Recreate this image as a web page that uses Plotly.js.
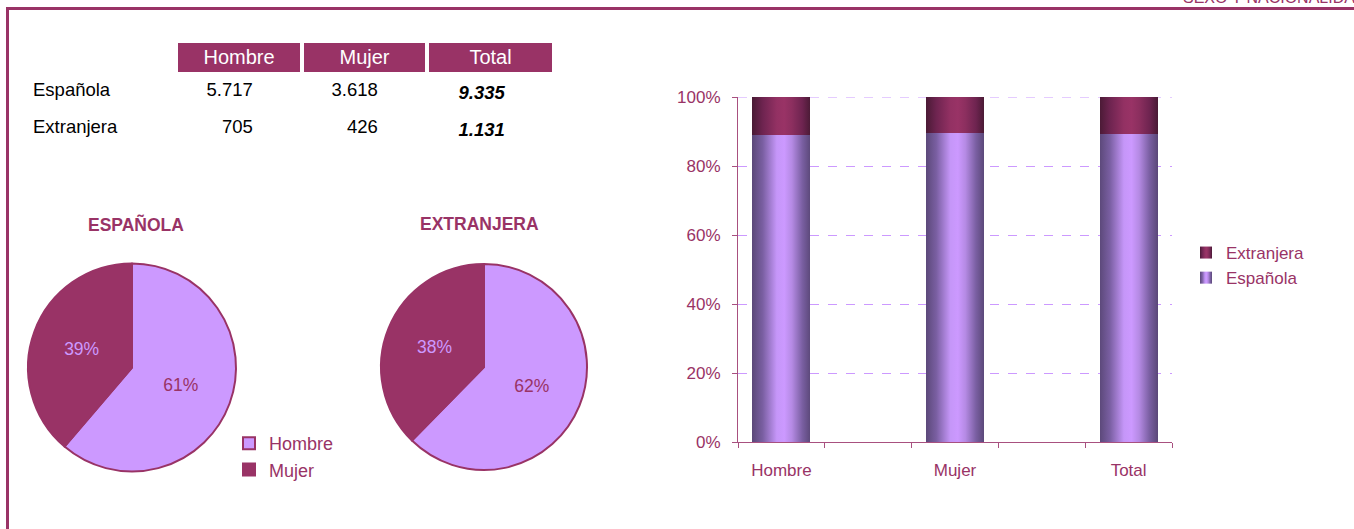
<!DOCTYPE html>
<html>
<head>
<meta charset="utf-8">
<script src="https://cdn.plot.ly/plotly-3.0.1.min.js"></script>
<style>
  html, body { margin: 0; padding: 0; background: #ffffff; }
  #chart { width: 1354px; height: 529px; }
</style>
</head>
<body>
<div id="chart"></div>
<script>
// ---- data ----
const nationalities = ['Española', 'Extranjera'];
const sexes = ['Hombre', 'Mujer'];
const tableHeaders = ['', 'Hombre', 'Mujer', 'Total'];
const hombreValues = [5717, 705];
const mujerValues = [3618, 426];
const totalValues = [9335, 1131];
const barCategories = ['Hombre', 'Mujer', 'Total'];
const pieTitles = ['ESPAÑOLA', 'EXTRANJERA'];
const pageTitle = 'SEXO Y NACIONALIDAD';

// ---- styles ----
const WINE = '#993366';
const LILAC = '#CC99FF';
const FONT = "'Liberation Sans', Arial, sans-serif";

function fmt(n) { return String(n).replace(/\B(?=(\d{3})+(?!\d))/g, '.'); }
const PAD = '\u00a0'.repeat(8);

// table
const tableTrace = {
  type: 'table',
  domain: { x: [25 / 1354, 554 / 1354], y: [1 - 140 / 529, 1 - 41 / 529] },
  columnwidth: [151, 126, 125, 127],
  header: {
    values: tableHeaders,
    align: 'center',
    height: 33,
    fill: { color: ['#ffffff', WINE, WINE, WINE] },
    line: { color: '#ffffff', width: 4 },
    font: { family: FONT, size: 20, color: '#ffffff' }
  },
  cells: {
    values: [
      nationalities,
      hombreValues.map(v => fmt(v) + PAD),
      mujerValues.map(v => fmt(v) + PAD),
      totalValues.map(v => '<b><i>' + fmt(v) + '</i></b>' + PAD)
    ],
    align: ['left', 'right', 'right', 'right'],
    height: 33,
    fill: { color: '#ffffff' },
    line: { color: '#ffffff', width: 0 },
    font: { family: FONT, size: 18.5, color: '#000000' }
  }
};

const pieCommon = {
  type: 'pie',
  labels: sexes,
  sort: false,
  direction: 'clockwise',
  rotation: 0,
  textposition: 'inside',
  insidetextorientation: 'horizontal',
  texttemplate: '%{percent:.0%}',
  textfont: { family: FONT, size: 17.5, color: [WINE, LILAC] },
  marker: { colors: [LILAC, WINE], line: { color: WINE, width: 2 } },
  hoverinfo: 'none',
  legend: 'legend'
};
const pie1 = Object.assign({}, pieCommon, {
  values: [hombreValues[0], mujerValues[0]],
  domain: { x: [28 / 1354, 236 / 1354], y: [1 - 471.5 / 529, 1 - 263.5 / 529] }
});
const pie2 = Object.assign({}, pieCommon, {
  values: [hombreValues[1], mujerValues[1]],
  domain: { x: [381 / 1354, 587 / 1354], y: [1 - 470 / 529, 1 - 264 / 529] },
  showlegend: false
});

const barEsp = {
  type: 'bar', name: nationalities[0], x: barCategories,
  y: [hombreValues[0], mujerValues[0], totalValues[0]],
  marker: { color: LILAC }, width: 0.67, legend: 'legend2', hoverinfo: 'none'
};
const barExt = {
  type: 'bar', name: nationalities[1], x: barCategories,
  y: [hombreValues[1], mujerValues[1], totalValues[1]],
  marker: { color: WINE }, width: 0.67, legend: 'legend2', hoverinfo: 'none'
};

const AXIS = '#a8507f';
const layout = {
  width: 1354, height: 529,
  margin: { l: 0, r: 0, t: 0, b: 0 },
  paper_bgcolor: '#ffffff', plot_bgcolor: '#ffffff',
  font: { family: FONT, color: WINE },
  barmode: 'stack', barnorm: 'percent',
  xaxis: {
    domain: [738 / 1354, 1172 / 1354],
    type: 'category',
    categoryorder: 'array',
    categoryarray: ['Hombre', 'g1', 'Mujer', 'g2', 'Total'],
    tickmode: 'array',
    tickvals: ['Hombre', 'g1', 'Mujer', 'g2', 'Total'],
    ticktext: ['Hombre', '', 'Mujer', '', 'Total'],
    range: [-0.5, 4.5],
    tickson: 'boundaries',
    ticks: 'outside', ticklen: 5, tickcolor: AXIS, tickwidth: 1,
    showline: true, linecolor: AXIS, linewidth: 1,
    showgrid: false, zeroline: false,
    tickfont: { family: FONT, size: 17, color: WINE },
    ticklabelstandoff: 13,
    fixedrange: true
  },
  yaxis: {
    domain: [1 - 442 / 529, 1 - 97 / 529],
    range: [0, 100], dtick: 20, ticksuffix: '%',
    ticks: 'outside', ticklen: 5, tickcolor: AXIS, tickwidth: 1,
    showline: true, linecolor: AXIS, linewidth: 1,
    showgrid: true, gridcolor: LILAC, griddash: 'dash', gridwidth: 1,
    zeroline: false,
    tickfont: { family: FONT, size: 17, color: WINE },
    ticklabelstandoff: 8,
    fixedrange: true
  },
  legend: {
    x: 229 / 1354, xanchor: 'left', y: 1 - 425 / 529, yanchor: 'top',
    font: { family: FONT, size: 18, color: WINE },
    bgcolor: 'rgba(0,0,0,0)', itemwidth: 30, tracegroupgap: 0
  },
  legend2: {
    x: 1186 / 1354, xanchor: 'left', y: 1 - 235 / 529, yanchor: 'top',
    font: { family: FONT, size: 17, color: WINE },
    bgcolor: 'rgba(0,0,0,0)', traceorder: 'reversed', itemwidth: 30
  },
  annotations: [
    { text: '<b>' + pieTitles[0] + '</b>', xref: 'paper', yref: 'paper', x: 136 / 1354, y: 1 - 224 / 529,
      xanchor: 'center', yanchor: 'middle', showarrow: false, font: { family: FONT, size: 17.5, color: WINE } },
    { text: '<b>' + pieTitles[1] + '</b>', xref: 'paper', yref: 'paper', x: 479 / 1354, y: 1 - 224 / 529,
      xanchor: 'center', yanchor: 'middle', showarrow: false, font: { family: FONT, size: 17.5, color: WINE } },
    { text: pageTitle, xref: 'paper', yref: 'paper', x: 1, xshift: 14, y: 1, yshift: 13,
      xanchor: 'right', yanchor: 'top', showarrow: false, font: { family: FONT, size: 16, color: WINE } }
  ],
  shapes: [
    { type: 'line', xref: 'paper', yref: 'paper', x0: 6 / 1354, x1: 1, y0: 1 - 8.5 / 529, y1: 1 - 8.5 / 529,
      line: { color: WINE, width: 3 } },
    { type: 'line', xref: 'paper', yref: 'paper', x0: 7.5 / 1354, x1: 7.5 / 1354, y0: 0, y1: 1 - 7 / 529,
      line: { color: WINE, width: 3 } },
    { type: 'line', xref: 'x domain', yref: 'y', x0: 0, x1: 1, y0: 100, y1: 100, layer: 'below',
      line: { color: LILAC, width: 1, dash: 'dash' } }
  ],
  showlegend: true
};

function addGradients(gd) {
  const svg = gd.querySelector('svg.main-svg');
  let defs = svg.querySelector('defs');
  if (!defs) { defs = document.createElementNS('http://www.w3.org/2000/svg', 'defs'); svg.insertBefore(defs, svg.firstChild); }
  const grads = {
    'grad-esp': [[0, '#5b4879'], [0.18, '#7a5fa2'], [0.42, '#c596f8'], [0.55, '#cc99ff'], [0.68, '#b58ae4'], [0.86, '#7a5fa2'], [1, '#5b4879']],
    'grad-ext': [[0, '#4a1a35'], [0.18, '#6e2450'], [0.42, '#933163'], [0.55, '#993366'], [0.68, '#8c2f5f'], [0.86, '#6e2450'], [1, '#4a1a35']]
  };
  Object.keys(grads).forEach(id => {
    const lg = document.createElementNS('http://www.w3.org/2000/svg', 'linearGradient');
    lg.setAttribute('id', id);
    lg.setAttribute('x1', '0'); lg.setAttribute('y1', '0'); lg.setAttribute('x2', '1'); lg.setAttribute('y2', '0');
    grads[id].forEach(s => {
      const st = document.createElementNS('http://www.w3.org/2000/svg', 'stop');
      st.setAttribute('offset', s[0]); st.setAttribute('stop-color', s[1]);
      lg.appendChild(st);
    });
    defs.appendChild(lg);
  });
  const nameToGrad = {};
  nameToGrad[nationalities[0]] = 'url(#grad-esp)';
  nameToGrad[nationalities[1]] = 'url(#grad-ext)';
  gd.querySelectorAll('.barlayer .trace').forEach(t => {
    const d = t.__data__;
    const name = d && d[0] && d[0].trace ? d[0].trace.name : null;
    if (name && nameToGrad[name]) t.querySelectorAll('path').forEach(p => { p.style.fill = nameToGrad[name]; });
  });
  gd.querySelectorAll('.legend2 .traces').forEach(t => {
    const d = t.__data__;
    const name = d && d[0] && d[0].trace ? d[0].trace.name : null;
    if (name && nameToGrad[name]) t.querySelectorAll('.legendpoints path').forEach(p => { p.style.fill = nameToGrad[name]; });
  });
}

Plotly.newPlot('chart', [tableTrace, pie1, pie2, barEsp, barExt], layout, { staticPlot: true, displayModeBar: false })
  .then(addGradients);
</script>
</body>
</html>
